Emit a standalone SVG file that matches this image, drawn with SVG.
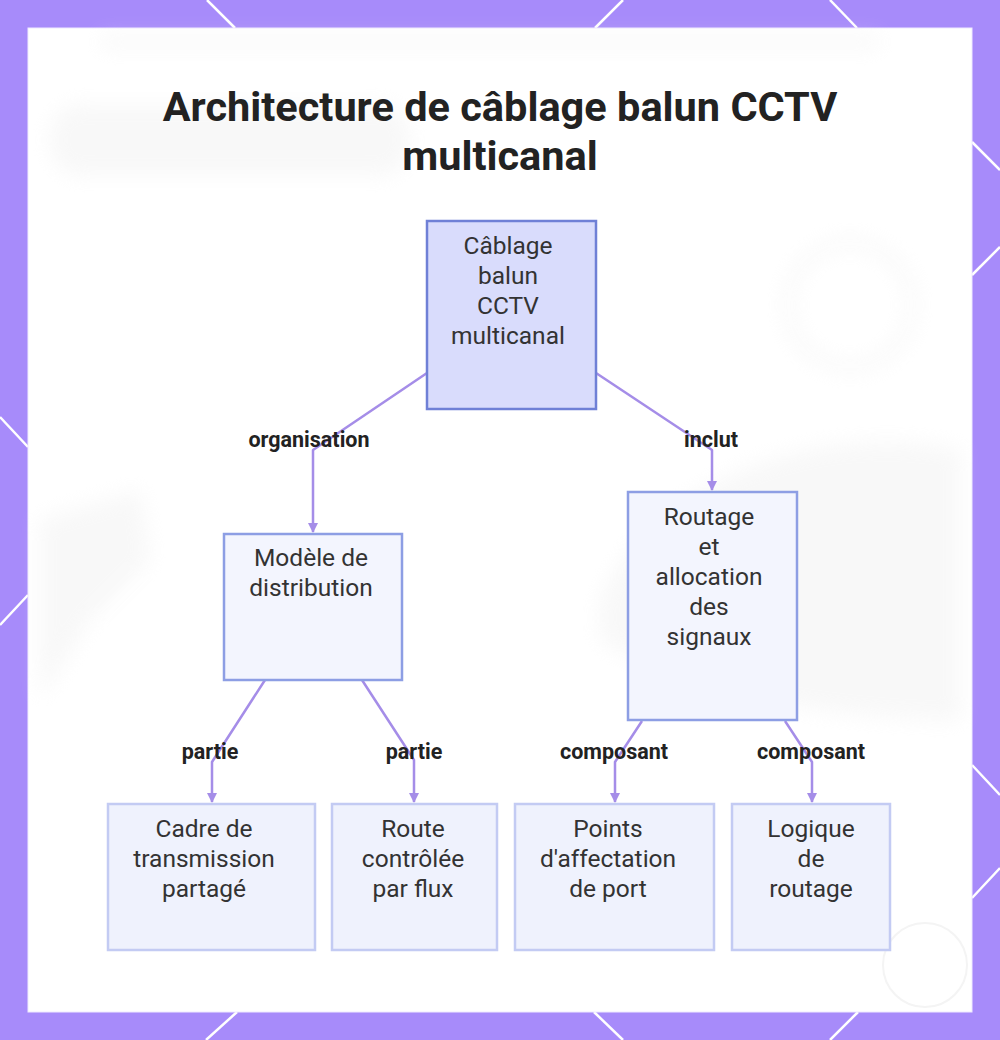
<svg xmlns="http://www.w3.org/2000/svg" width="1000" height="1040" viewBox="0 0 1000 1040">
  <defs>
    <style>
      .title { font-family: Roboto, "Liberation Sans", sans-serif; font-weight: 700; font-size: 41.5px; fill: #222222; text-anchor: middle; }
      .ntext { font-family: Roboto, "Liberation Sans", sans-serif; font-size: 24.5px; fill: #333333; text-anchor: middle; }
      .elabel { font-family: Roboto, "Liberation Sans", sans-serif; font-weight: 700; font-size: 21.5px; fill: #222222; text-anchor: middle; }
      .root { fill: #d9dcfc; stroke: #6f80d6; stroke-width: 2.5; }
      .mid { fill: #f3f5fe; stroke: #8d9ee4; stroke-width: 2.5; }
      .leaf { fill: #eff2fd; stroke: #c3cbf3; stroke-width: 2.5; }
      .edge { fill: none; stroke: #a58de8; stroke-width: 2.5; stroke-linejoin: round; }
      .bline { stroke: #ffffff; stroke-width: 2.5; }
      .ghost { fill: #eeeeee; }
    </style>
    <marker id="arr" viewBox="0 0 10 10" refX="9" refY="5" markerWidth="4" markerHeight="4" orient="auto">
      <path d="M0,0 L10,5 L0,10 z" fill="#a58de8"/>
    </marker>
    <filter id="blur" x="-20%" y="-20%" width="140%" height="140%">
      <feGaussianBlur stdDeviation="10"/>
    </filter>
  </defs>

  <!-- border -->
  <rect x="0" y="0" width="1000" height="1040" fill="#a78bfa"/>
  <g id="border-lines">
    <line class="bline" x1="207" y1="0" x2="235" y2="28"/>
    <line class="bline" x1="623" y1="0" x2="595" y2="28"/>
    <line class="bline" x1="830" y1="0" x2="857" y2="28"/>
    <line class="bline" x1="972" y1="142" x2="1000" y2="170"/>
    <line class="bline" x1="972" y1="275" x2="1000" y2="247"/>
    <line class="bline" x1="972" y1="765" x2="1000" y2="795"/>
    <line class="bline" x1="972" y1="898" x2="1000" y2="868"/>
    <line class="bline" x1="237" y1="1012" x2="206" y2="1040"/>
    <line class="bline" x1="594" y1="1012" x2="623" y2="1040"/>
    <line class="bline" x1="858" y1="1012" x2="830" y2="1040"/>
    <line class="bline" x1="0" y1="417" x2="28" y2="447"/>
    <line class="bline" x1="28" y1="595" x2="0" y2="625"/>
  </g>
  <rect x="28" y="28" width="944" height="984" fill="#ffffff" stroke="#efeaff" stroke-width="1"/>

  <!-- faint background -->
  <g id="background" filter="url(#blur)" opacity="0.4">
    <rect class="ghost" x="100" y="36" width="780" height="12" rx="6"/>
    <rect class="ghost" x="50" y="105" width="360" height="70" rx="30"/>
    <circle cx="850" cy="305" r="62" fill="none" stroke="#eeeeee" stroke-width="10"/>
    <path class="ghost" d="M40,520 L140,490 L150,560 L90,620 L40,700 Z"/>
    <path class="ghost" d="M600,600 C650,480 820,420 960,450 L960,720 C850,720 700,700 600,640 Z"/>
  </g>
  <circle cx="925" cy="965" r="42" fill="none" stroke="#f4f4f4" stroke-width="2"/>

  <!-- title -->
  <g id="title">
    <text class="title" x="500" y="121">Architecture de câblage balun CCTV</text>
    <text class="title" x="500" y="170">multicanal</text>
  </g>

  <!-- connectors -->
  <g id="connectors">
    <path class="edge" marker-end="url(#arr)" d="M427,373 L313,450 L313,532"/>
    <path class="edge" marker-end="url(#arr)" d="M596,373 L712,450 L712,490"/>
    <path class="edge" marker-end="url(#arr)" d="M265,680 L212,762 L212,802"/>
    <path class="edge" marker-end="url(#arr)" d="M362,680 L414,760 L414,802"/>
    <path class="edge" marker-end="url(#arr)" d="M642,721 L615,762 L615,802"/>
    <path class="edge" marker-end="url(#arr)" d="M785,721 L812,762 L812,802"/>
    <text class="elabel" x="309" y="447">organisation</text>
    <text class="elabel" x="711" y="447">inclut</text>
    <text class="elabel" x="210" y="759">partie</text>
    <text class="elabel" x="414" y="759">partie</text>
    <text class="elabel" x="614" y="759">composant</text>
    <text class="elabel" x="811" y="759">composant</text>
  </g>

  <!-- nodes -->
  <g id="node-root">
    <rect class="root" x="427" y="221" width="169" height="188"/>
    <text class="ntext" x="508" y="254">Câblage</text>
    <text class="ntext" x="508" y="284">balun</text>
    <text class="ntext" x="508" y="314">CCTV</text>
    <text class="ntext" x="508" y="344">multicanal</text>
  </g>
  <g id="node-modele">
    <rect class="mid" x="224" y="534" width="178" height="146"/>
    <text class="ntext" x="311" y="566">Modèle de</text>
    <text class="ntext" x="311" y="596">distribution</text>
  </g>
  <g id="node-routage">
    <rect class="mid" x="628" y="492" width="169" height="228"/>
    <text class="ntext" x="709" y="525">Routage</text>
    <text class="ntext" x="709" y="555">et</text>
    <text class="ntext" x="709" y="585">allocation</text>
    <text class="ntext" x="709" y="615">des</text>
    <text class="ntext" x="709" y="645">signaux</text>
  </g>
  <g id="node-cadre">
    <rect class="leaf" x="108" y="804" width="207" height="146"/>
    <text class="ntext" x="204" y="837">Cadre de</text>
    <text class="ntext" x="204" y="867">transmission</text>
    <text class="ntext" x="204" y="897">partagé</text>
  </g>
  <g id="node-route">
    <rect class="leaf" x="332" y="804" width="165" height="146"/>
    <text class="ntext" x="413" y="837">Route</text>
    <text class="ntext" x="413" y="867">contrôlée</text>
    <text class="ntext" x="413" y="897">par flux</text>
  </g>
  <g id="node-points">
    <rect class="leaf" x="515" y="804" width="199" height="146"/>
    <text class="ntext" x="608" y="837">Points</text>
    <text class="ntext" x="608" y="867">d'affectation</text>
    <text class="ntext" x="608" y="897">de port</text>
  </g>
  <g id="node-logique">
    <rect class="leaf" x="732" y="804" width="158" height="146"/>
    <text class="ntext" x="811" y="837">Logique</text>
    <text class="ntext" x="811" y="867">de</text>
    <text class="ntext" x="811" y="897">routage</text>
  </g>
</svg>
